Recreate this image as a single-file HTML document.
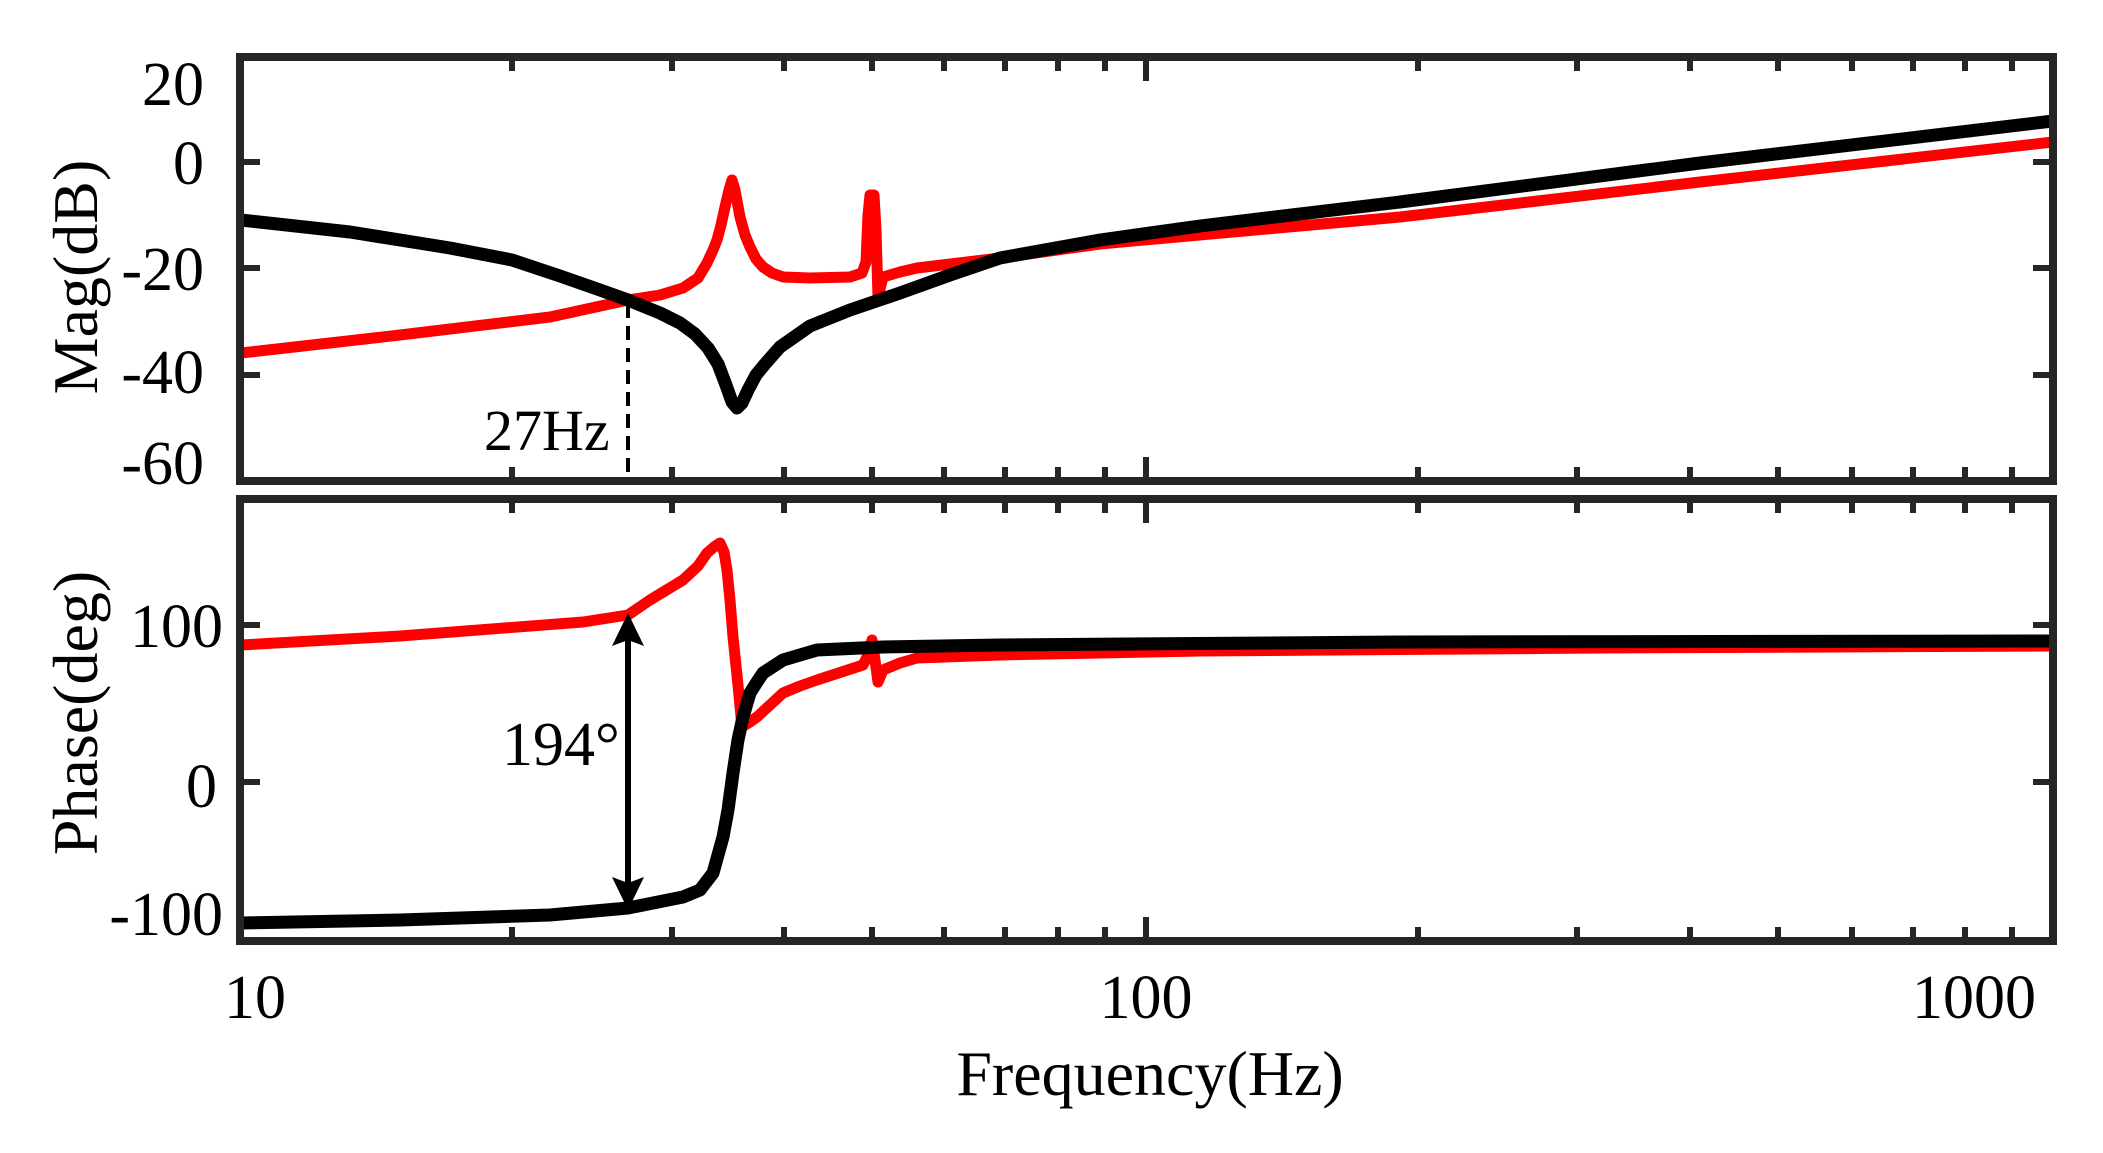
<!DOCTYPE html>
<html><head><meta charset="utf-8"><style>html,body{margin:0;padding:0;background:#fff}svg{display:block}</style></head>
<body>
<svg width="2103" height="1153" viewBox="0 0 2103 1153" xmlns="http://www.w3.org/2000/svg" font-family="Liberation Serif, serif">
<rect width="2103" height="1153" fill="#fff"/>
<defs>
<clipPath id="c1"><rect x="240" y="57" width="1813" height="424"/></clipPath>
<clipPath id="c2"><rect x="240" y="499" width="1813" height="442"/></clipPath>
</defs>
<!-- top panel curves -->
<g clip-path="url(#c1)" fill="none" stroke-linejoin="round" stroke-linecap="round">
<polyline stroke="#ff0000" stroke-width="11" points="241,353 400,335 550,317 628,300 660,295 683,288 698,278 707,263 713,250 717,240 721,225 725,207 729,190 732,180 735,190 740,217 745,235 750,247 756,259 763,267 772,273 783,277 810,278 850,277 862,273 866,262 868,215 870,195 874,195 876,230 878,297 883,277 900,272 917,268 1000,258 1100,244 1400,217 1700,182 2053,142"/>
<polyline stroke="#000" stroke-width="13" points="241,220 350,232 450,248 512,260 560,276 600,290 628,300 660,313 680,323 695,334 708,348 718,364 726,385 732,402 737,408 742,403 748,390 756,375 765,364 780,347 810,326 850,310 900,293 950,275 1000,258 1100,240 1200,226 1400,202 1700,163 2053,121"/>
</g>
<line x1="628" y1="304" x2="628" y2="481" stroke="#000" stroke-width="4" stroke-dasharray="14,8"/>
<!-- bottom panel curves -->
<g clip-path="url(#c2)" fill="none" stroke-linejoin="round" stroke-linecap="round">
<polyline stroke="#ff0000" stroke-width="11" points="241,645 400,636 583,622 628,615 650,600 683,580 698,566 707,553 714,547 720,543 724,552 727,570 730,600 733,637 738,685 742,727 750,722 757,717 770,705 783,693 800,686 817,680 863,665 868,655 872,640 875,660 878,682 883,670 900,663 917,658 1000,655 1200,651 1600,648 2053,646"/>
<polyline stroke="#000" stroke-width="13" points="241,923 400,920 550,915 628,908 683,897 700,890 713,873 723,837 728,810 733,773 738,740 743,717 750,693 757,682 763,673 783,660 817,650 883,647 1000,645 1400,642 2053,641"/>
</g>
<!-- arrow -->
<line x1="628" y1="640" x2="628" y2="885" stroke="#000" stroke-width="6"/>
<polygon points="628,613 612,646 628,640 644,646" fill="#000"/>
<polygon points="628,910 612,877 628,883 644,877" fill="#000"/>
<!-- frames -->
<g fill="none" stroke="#262626" stroke-width="8">
<rect x="240" y="57" width="1813" height="424"/>
<rect x="240" y="499" width="1813" height="442"/>
</g>
<g stroke="#262626" stroke-width="6">
<path d="M512,481v-14M672,481v-14M784,481v-14M872,481v-14M944,481v-14M1005,481v-14M1058,481v-14M1105,481v-14M1146,481v-24M1418,481v-14M1577,481v-14M1690,481v-14M1778,481v-14M1852,481v-14M1913,481v-14M1965,481v-14M2012,481v-14"/>
<path d="M512,57v14M672,57v14M784,57v14M872,57v14M944,57v14M1005,57v14M1058,57v14M1105,57v14M1146,57v24M1418,57v14M1577,57v14M1690,57v14M1778,57v14M1852,57v14M1913,57v14M1965,57v14M2012,57v14"/>
<path d="M512,941v-14M672,941v-14M784,941v-14M872,941v-14M944,941v-14M1005,941v-14M1058,941v-14M1105,941v-14M1146,941v-24M1418,941v-14M1577,941v-14M1690,941v-14M1778,941v-14M1852,941v-14M1913,941v-14M1965,941v-14M2012,941v-14"/>
<path d="M512,499v14M672,499v14M784,499v14M872,499v14M944,499v14M1005,499v14M1058,499v14M1105,499v14M1146,499v24M1418,499v14M1577,499v14M1690,499v14M1778,499v14M1852,499v14M1913,499v14M1965,499v14M2012,499v14"/>
<path d="M240,162h20M240,268h20M240,375h20M2053,162h-20M2053,268h-20M2053,375h-20"/>
<path d="M240,625h20M240,782h20M2053,625h-20M2053,782h-20"/>
</g>
<g font-size="62" fill="#000" text-anchor="end">
<text x="204" y="105">20</text>
<text x="204" y="184">0</text>
<text x="204" y="290">-20</text>
<text x="204" y="393">-40</text>
<text x="204" y="484">-60</text>
<text x="223" y="647">100</text>
<text x="217" y="807">0</text>
<text x="223" y="935">-100</text>
</g>
<g font-size="62" fill="#000" text-anchor="middle">
<text x="255" y="1018">10</text>
<text x="1146" y="1018">100</text>
<text x="1974" y="1018">1000</text>
<text x="1150" y="1095" font-size="64">Frequency(Hz)</text>
<text transform="translate(97,277) rotate(-90)" font-size="64">Mag(dB)</text>
<text transform="translate(97,713) rotate(-90)" font-size="64">Phase(deg)</text>
</g>
<text x="484" y="450" font-size="58" fill="#000">27Hz</text>
<text x="502" y="765" font-size="62" fill="#000">194°</text>
</svg>
</body></html>
